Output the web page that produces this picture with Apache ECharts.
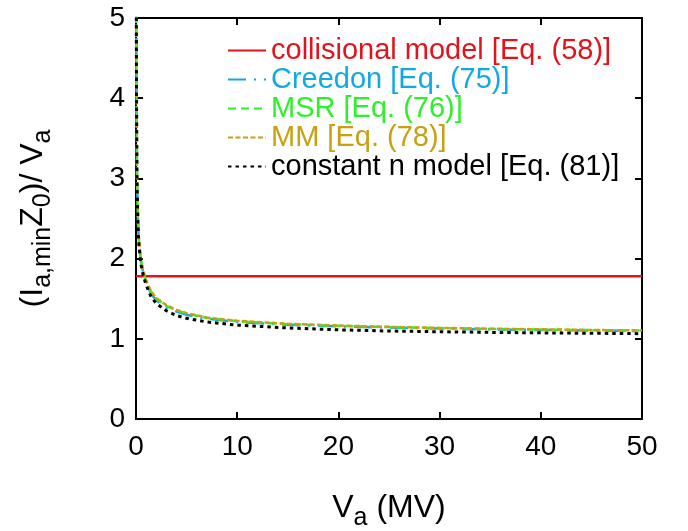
<!DOCTYPE html>
<html>
<head>
<meta charset="utf-8">
<script src="https://cdn.jsdelivr.net/npm/echarts@6/dist/echarts.min.js"></script>
<style>
  html, body { margin: 0; padding: 0; background: #fff; }
  #chart { width: 688px; height: 531px; }
</style>
</head>
<body>
<div id="chart"></div>
<script>
// values
const vA = [0.03, 0.05, 0.1, 0.2, 0.3, 0.5, 0.7, 1, 1.5, 2, 3, 4, 5, 7, 10, 15, 20, 25, 30, 35, 40, 45, 50]
const collisional = [[0, 1.78], [50, 1.78]]
const creedon = [5.2, 4.2, 3.0, 2.43, 2.18, 1.95, 1.83, 1.70, 1.56, 1.48, 1.39, 1.34, 1.30, 1.25, 1.21, 1.175, 1.155, 1.14, 1.128, 1.118, 1.11, 1.103, 1.097]
const msr = [5.2, 4.2, 3.0, 2.45, 2.2, 1.97, 1.85, 1.72, 1.58, 1.50, 1.41, 1.355, 1.315, 1.26, 1.22, 1.183, 1.162, 1.146, 1.133, 1.123, 1.115, 1.108, 1.102]
const mm = [5.2, 4.2, 3.0, 2.46, 2.21, 1.98, 1.86, 1.73, 1.59, 1.51, 1.42, 1.36, 1.32, 1.265, 1.225, 1.187, 1.165, 1.149, 1.136, 1.126, 1.118, 1.11, 1.104]
const constN = [5.1, 4.1, 2.95, 2.4, 2.15, 1.92, 1.8, 1.67, 1.52, 1.44, 1.35, 1.29, 1.255, 1.21, 1.17, 1.135, 1.112, 1.097, 1.088, 1.08, 1.074, 1.069, 1.064]
const names = ['collisional model [Eq. (58)]', 'Creedon [Eq. (75)]', 'MSR [Eq. (76)]', 'MM [Eq. (78)]', 'constant n model [Eq. (81)]']
const colors = ['#e3131b', '#12a8e6', '#2ef02a', '#c9a012', '#000000']

function pairs (ys) {
  return vA.map((x, i) => [x, ys[i]])
}

const font = 'Liberation Sans, Arial, Helvetica, sans-serif'
const myChart = echarts.init(document.getElementById('chart'))

const axisCommon = {
  axisLine: { show: true, onZero: false, lineStyle: { color: '#000', width: 2 } },
  axisTick: { show: true, inside: true, length: 7, lineStyle: { color: '#000', width: 2 } },
  splitLine: { show: false }
}

// sub/superscript styles for the axis titles
const titleRich = {
  n: { fontSize: 32, fontFamily: font, color: '#000', lineHeight: 46, verticalAlign: 'middle' },
  s: { fontSize: 25, fontFamily: font, color: '#000', lineHeight: 23, verticalAlign: 'bottom' }
}

const option = {
  animation: false,
  color: colors,
  grid: { left: 136, right: 46, top: 18, bottom: 112, outerBoundsMode: 'none', containLabel: false },
  legend: {
    orient: 'vertical',
    left: 222,
    top: 31,
    itemWidth: 38,
    itemHeight: 12,
    itemGap: 0,
    itemStyle: { opacity: 0 },
    textStyle: { fontFamily: font, fontSize: 29 },
    data: names.map((n, i) => ({ name: n, textStyle: { color: colors[i] } }))
  },
  xAxis: [
    Object.assign({
      type: 'value', min: 0, max: 50, interval: 10, position: 'bottom',
      name: '{n|V}{s|a}{n| (MV)}',
      nameLocation: 'middle',
      nameGap: 66,
      nameTextStyle: { fontFamily: font, rich: titleRich },
      axisLabel: { fontFamily: font, fontSize: 28, color: '#000', margin: 14 }
    }, axisCommon),
    Object.assign({
      type: 'value', min: 0, max: 50, interval: 10, position: 'top',
      axisLabel: { show: false }
    }, axisCommon)
  ],
  yAxis: [
    Object.assign({
      type: 'value', min: 0, max: 5, interval: 1, position: 'left',
      name: '{n|(I}{s|a,min}{n|Z}{s|0}{n|)/ V}{s|a}',
      nameLocation: 'middle',
      nameRotate: 90,
      nameGap: 80,
      nameTextStyle: { fontFamily: font, rich: titleRich },
      axisLabel: { fontFamily: font, fontSize: 28, color: '#000', margin: 11 }
    }, axisCommon),
    Object.assign({
      type: 'value', min: 0, max: 5, interval: 1, position: 'right',
      axisLabel: { show: false }
    }, axisCommon)
  ],
  series: [
    {
      name: names[0], type: 'line', symbol: 'none', data: collisional,
      lineStyle: { color: colors[0], width: 2.5, type: 'solid' }, z: 2
    },
    {
      name: names[1], type: 'line', symbol: 'none', data: pairs(creedon),
      lineStyle: { color: colors[1], width: 2.5, type: [18, 8, 2, 8] }, z: 3
    },
    {
      name: names[2], type: 'line', symbol: 'none', data: pairs(msr),
      lineStyle: { color: colors[2], width: 2.5, type: [8, 5] }, z: 4
    },
    {
      name: names[3], type: 'line', symbol: 'none', data: pairs(mm),
      lineStyle: { color: colors[3], width: 2.5, type: [5, 2.5] }, z: 5
    },
    {
      name: names[4], type: 'line', symbol: 'none', data: pairs(constN),
      lineStyle: { color: colors[4], width: 3, type: [3.5, 4] }, z: 6
    }
  ]
}

myChart.setOption(option)
window.onresize = function () {
  myChart.resize()
}
</script>
</body>
</html>
